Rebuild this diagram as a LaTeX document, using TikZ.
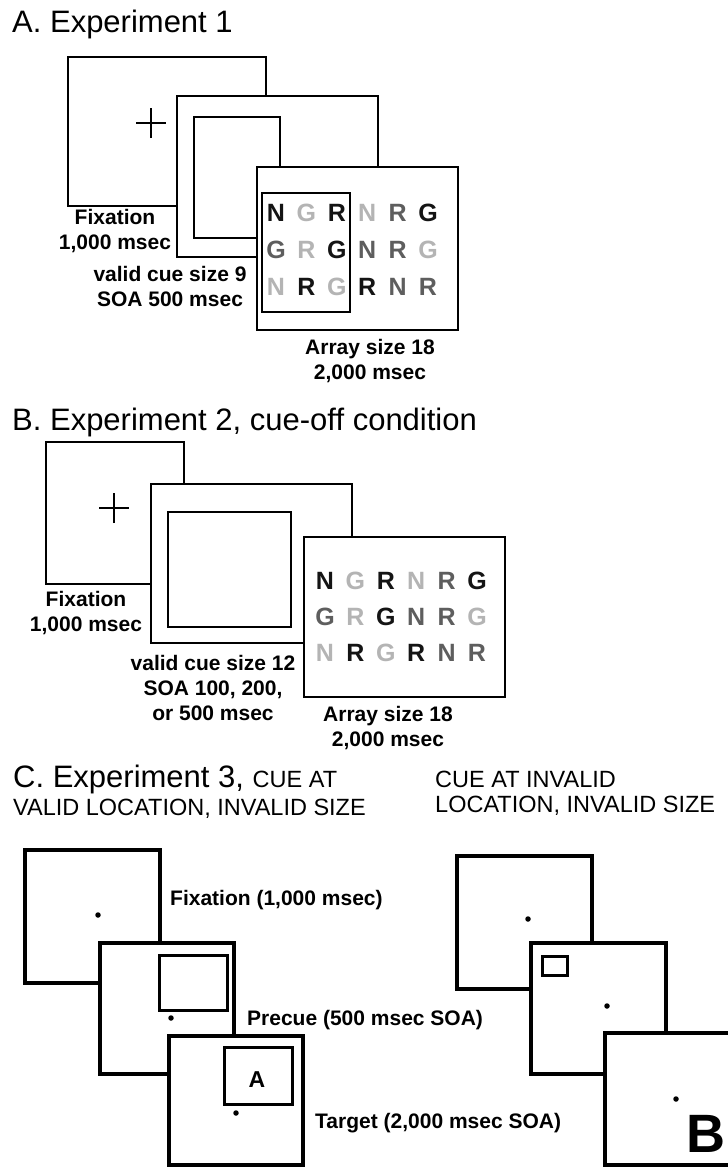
\documentclass[tikz,border=0pt]{standalone}
\usepackage{fontspec}
\setmainfont{Liberation Sans}
\definecolor{ltrk}{HTML}{141414}
\definecolor{ltrd}{HTML}{5E5E5E}
\definecolor{ltrl}{HTML}{B4B4B4}
% letters of the search array, row by row (k black, d dark, l light)
\newcommand{\ngrletters}{N/k,G/l,R/k,N/l,R/d,G/k,G/d,R/l,G/k,N/d,R/d,G/l,N/l,R/k,G/l,R/k,N/d,R/d}

\begin{document}
\begin{tikzpicture}[x=1pt,y=-1pt,
  frame/.style={draw,fill=white,line width=2pt,inner sep=0pt,outer sep=0pt},
  thickframe/.style={frame,line width=4pt},
  cueframe/.style={frame,line width=3pt},
  wh/.style 2 args={minimum width=#1pt,minimum height=#2pt},
  titletext/.style={font=\fontsize{31}{36}\selectfont,anchor=base west,inner sep=0pt},
  capstext/.style={font=\fontsize{23.5}{25}\selectfont,anchor=base west,inner sep=0pt,align=left},
  lbl/.style={font=\bfseries\fontsize{21}{25}\selectfont,align=center,inner sep=0pt},
  lblw/.style={lbl,anchor=base west},
  ltr/.style={font=\bfseries\fontsize{25}{30}\selectfont,inner sep=0pt},
  dot/.style={circle,fill,inner sep=0pt,minimum size=5.5pt},
  cross/.style={line width=1.8pt}
]
\path[use as bounding box,fill=white] (0,0) rectangle (728,1167);

% A. Experiment 1
\node[titletext] (titleA) at (12,32) {A. Experiment 1};
\node[frame,wh={198}{149}] (fixA) at (167,131.5) {};
\coordinate (crossA) at (151,123);
\draw[cross] ([xshift=-15pt]crossA) -- ([xshift=15pt]crossA) ([yshift=-15pt]crossA) -- ([yshift=15pt]crossA);
\node[frame,wh={201}{161}] (cueA) at (277.5,176.5) {};
\node[frame,wh={86}{121}] (cueAin) at (237,177.5) {};
\node[frame,wh={201}{163}] (arrA) at (357.5,248.5) {};
\node[frame,wh={88}{119}] (arrAcue) at (306,252.5) {};
\foreach \ltr/\shade [count=\k from 0] in \ngrletters {
  \pgfmathtruncatemacro\col{mod(\k,6)}
  \pgfmathtruncatemacro\row{\k/6}
  \node[ltr,text=ltr\shade] (la\k) at (276+30.4*\col,213+37*\row) {\ltr};
}
\node[lbl] (fixAlbl) at (115,231) {Fixation\\1,000 msec};
\node[lbl] (cueAlbl) at (170,286) {valid cue size 9\\SOA 500 msec};
\node[lbl] (arrAlbl) at (370,361) {Array size 18\\2,000 msec};

% B. Experiment 2
\node[titletext] (titleB) at (12,430) {B. Experiment 2, cue-off condition};
\node[frame,wh={138}{142}] (fixB) at (115,513) {};
\coordinate (crossB) at (114,508);
\draw[cross] ([xshift=-15pt]crossB) -- ([xshift=15pt]crossB) ([yshift=-15pt]crossB) -- ([yshift=15pt]crossB);
\node[frame,wh={201}{159}] (cueB) at (251.5,563.5) {};
\node[frame,wh={123}{115}] (cueBin) at (229.5,569.5) {};
\node[frame,wh={201}{160}] (arrB) at (404.5,617) {};
\foreach \ltr/\shade [count=\k from 0] in \ngrletters {
  \pgfmathtruncatemacro\col{mod(\k,6)}
  \pgfmathtruncatemacro\row{\k/6}
  \node[ltr,text=ltr\shade] (lb\k) at (325+30.4*\col,581+36*\row) {\ltr};
}
\node[lbl] (fixBlbl) at (86,613) {Fixation\\1,000 msec};
\node[lbl] (cueBlbl) at (213,687.5) {valid cue size 12\\SOA 100, 200,\\or 500 msec};
\node[lbl] (arrBlbl) at (388,728) {Array size 18\\2,000 msec};

% C. Experiment 3, valid location
\node[titletext] (titleC) at (13,787) {C. Experiment 3, {\fontsize{23.5}{25}\selectfont CUE AT}};
\node[capstext] (titleC2) at (13,815) {VALID LOCATION, INVALID SIZE};
\node[thickframe,wh={135}{133}] (fixC) at (92.5,916.5) {};
\node[dot] (dotC1) at (98,915) {};
\node[thickframe,wh={134}{131}] (preC) at (167,1008.5) {};
\node[cueframe,wh={68}{55}] (preCcue) at (193,982.5) {};
\node[dot] (dotC2) at (171,1018) {};
\node[thickframe,wh={134}{129}] (tarC) at (236,1100.5) {};
\node[cueframe,wh={68}{57}] (tarCcue) at (258,1075.5) {};
\node[ltr,font=\bfseries\fontsize{23}{28}\selectfont] (letterA) at (257,1080) {A};
\node[dot] (dotC3) at (236,1113) {};
\node[lblw] (fixClbl) at (170,905) {Fixation (1,000 msec)};
\node[lblw] (preClbl) at (247,1025) {Precue (500 msec SOA)};
\node[lblw] (tarClbl) at (315,1128) {Target (2,000 msec SOA)};

% invalid location
\node[capstext] (titleD) at (435,812) {CUE AT INVALID\\LOCATION, INVALID SIZE};
\node[thickframe,wh={135}{133}] (fixD) at (524.5,922.5) {};
\node[dot] (dotD1) at (528,919) {};
\node[thickframe,wh={135}{131}] (preD) at (598.5,1008.5) {};
\node[cueframe,wh={25}{19}] (preDcue) at (554.5,965.5) {};
\node[dot] (dotD2) at (607,1006) {};
\node[thickframe,wh={135}{132}] (tarD) at (672.5,1099) {};
\node[dot] (dotD3) at (676,1099) {};
\node[font=\bfseries\fontsize{54}{60}\selectfont,anchor=base west,inner sep=0pt] (letterB) at (686,1152) {B};
\end{tikzpicture}
\end{document}
